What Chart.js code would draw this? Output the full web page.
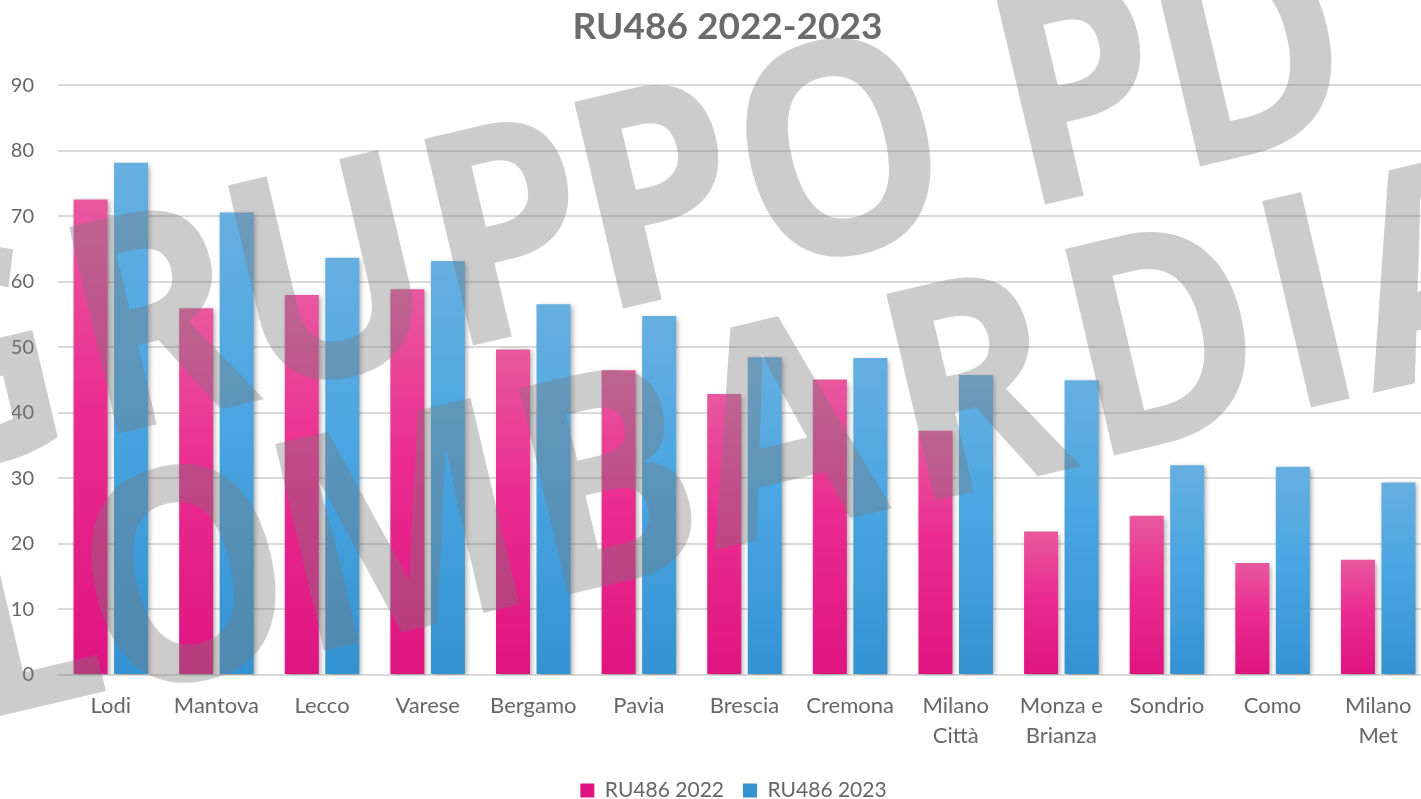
<!DOCTYPE html>
<html>
<head>
<meta charset="utf-8">
<script src="https://cdn.jsdelivr.net/npm/chart.js@4"></script>
<style>
  html, body { margin: 0; padding: 0; background: #fff; overflow: hidden; }
  #wrap { width: 1456px; height: 799px; position: relative; }
</style>
</head>
<body>
<div id="wrap"><canvas id="ru486Chart"></canvas></div>
<script>
// categorie (province), su due righe dove serve
const categories = [
  ["Lodi"], ["Mantova"], ["Lecco"], ["Varese"], ["Bergamo"], ["Pavia"], ["Brescia"],
  ["Cremona"], ["Milano", "Città"], ["Monza e", "Brianza"], ["Sondrio"], ["Como"], ["Milano", "Met"]
];
const ru486_2022 = [72.6, 56.0, 58.0, 58.9, 49.7, 46.5, 42.9, 45.1, 37.3, 21.9, 24.3, 17.1, 17.6];
const ru486_2023 = [78.2, 70.6, 63.7, 63.2, 56.6, 54.8, 48.5, 48.4, 45.8, 45.0, 32.0, 31.8, 29.4];
const yTicks = [0, 10, 20, 30, 40, 50, 60, 70, 80, 90];

// filigrana "GRUPPO PD / LOMBARDIA" (lettera, x, y della linea di base)
const wmLine1 = [["G", -105, 485], ["R", 95, 439], ["U", 255, 397], ["P", 450, 351], ["P", 600, 314],
  ["O", 761, 275], ["P", 1022, 210], ["D", 1177, 172]];
const wmLine2 = [["L", -30, 723], ["O", 106, 701], ["M", 301, 656], ["B", 545, 600], ["A", 715, 550],
  ["R", 912, 506], ["D", 1091, 461], ["I", 1288, 413], ["A", 1373, 393]];

const PINK = ["#e8589f", "#eb2b8f", "#de1481"];
const BLUE = ["#66afe0", "#4aa6e2", "#3592d1"];

function barGradient(stops) {
  return (c) => {
    const chart = c.chart;
    if (c.type !== "data" || !chart.chartArea) return stops[1];
    const y = chart.scales.y;
    const top = y.getPixelForValue(c.raw);
    const base = y.getPixelForValue(0);
    const g = chart.ctx.createLinearGradient(0, top, 0, base);
    g.addColorStop(0, stops[0]);
    g.addColorStop(0.45, stops[1]);
    g.addColorStop(1, stops[2]);
    return g;
  };
}

const barShadow = {
  id: "barShadow",
  beforeDatasetsDraw(chart) {
    const ctx = chart.ctx;
    ctx.save();
    ctx.shadowColor = "rgba(0,0,0,0.35)";
    ctx.shadowBlur = 5;
    ctx.shadowOffsetX = 2;
    ctx.shadowOffsetY = 2;
  },
  afterDatasetsDraw(chart) {
    chart.ctx.restore();
  }
};

// titolo e legenda un po' più a destra, come nell'originale
const recenter = {
  id: "recenter",
  afterLayout(chart) {
    if (chart.titleBlock) chart.titleBlock.left = 24;
    if (chart.legend) chart.legend.left = 36;
  }
};

const watermark = {
  id: "watermark",
  afterDraw(chart) {
    const ctx = chart.ctx;
    const ang = -13.3 * Math.PI / 180;
    ctx.save();
    ctx.fillStyle = "rgba(121,121,121,0.38)";
    ctx.font = "700 263px 'Open Sans'";
    ctx.textBaseline = "alphabetic";
    [wmLine1, wmLine2].forEach((line) => {
      line.forEach(([ch, x, y]) => {
        ctx.save();
        ctx.translate(x, y);
        ctx.rotate(ang);
        ctx.scale(1, 1.13);
        ctx.fillText(ch, 0, 0);
        ctx.restore();
      });
    });
    ctx.restore();
  }
};

const ctx = document.getElementById("ru486Chart").getContext("2d");

new Chart(ctx, {
  type: "bar",
  data: {
    labels: categories,
    datasets: [
      {
        label: "RU486 2022",
        data: ru486_2022,
        backgroundColor: barGradient(PINK),
        borderWidth: 0,
        categoryPercentage: 0.767,
        barPercentage: 0.84,
      },
      {
        label: "RU486 2023",
        data: ru486_2023,
        backgroundColor: barGradient(BLUE),
        borderWidth: 0,
        categoryPercentage: 0.767,
        barPercentage: 0.84,
      },
    ],
  },
  options: {
    responsive: true,
    maintainAspectRatio: false,
    animation: false,
    layout: { padding: { left: 12, right: 25, top: 0, bottom: -12 } },
    plugins: {
      title: {
        display: true,
        text: "RU486 2022-2023",
        color: "#6b6b6b",
        font: { family: "Lato", size: 37, weight: "bold" },
        padding: { top: 5, bottom: 36 },
      },
      legend: {
        position: "bottom",
        labels: {
          color: "#666",
          font: { family: "Lato", size: 21 },
          boxWidth: 14,
          boxHeight: 14,
          padding: 19,
        },
      },
      tooltip: { enabled: false },
    },
    scales: {
      x: {
        grid: { display: false, drawTicks: false },
        border: { display: true, color: "#d9d9d9", width: 2 },
        afterFit: (axis) => { axis.paddingLeft = 0; axis.paddingRight = 0; axis.height -= 6; },
        ticks: {
          color: "#666",
          font: { family: "Lato", size: 22, lineHeight: 1.364 },
          padding: 16,
          maxRotation: 0,
          autoSkip: false,
        },
      },
      y: {
        min: 0,
        max: 90,
        afterBuildTicks: (axis) => { axis.ticks = yTicks.map((v) => ({ value: v })); },
        afterFit: (axis) => { axis.width = 46; },
        grid: { color: "#d9d9d9", lineWidth: 2, drawTicks: false },
        border: { display: false },
        ticks: {
          color: "#666",
          font: { family: "Lato", size: 20 },
          padding: 24,
        },
      },
    },
  },
  plugins: [barShadow, recenter, watermark],
});
</script>
</body>
</html>
